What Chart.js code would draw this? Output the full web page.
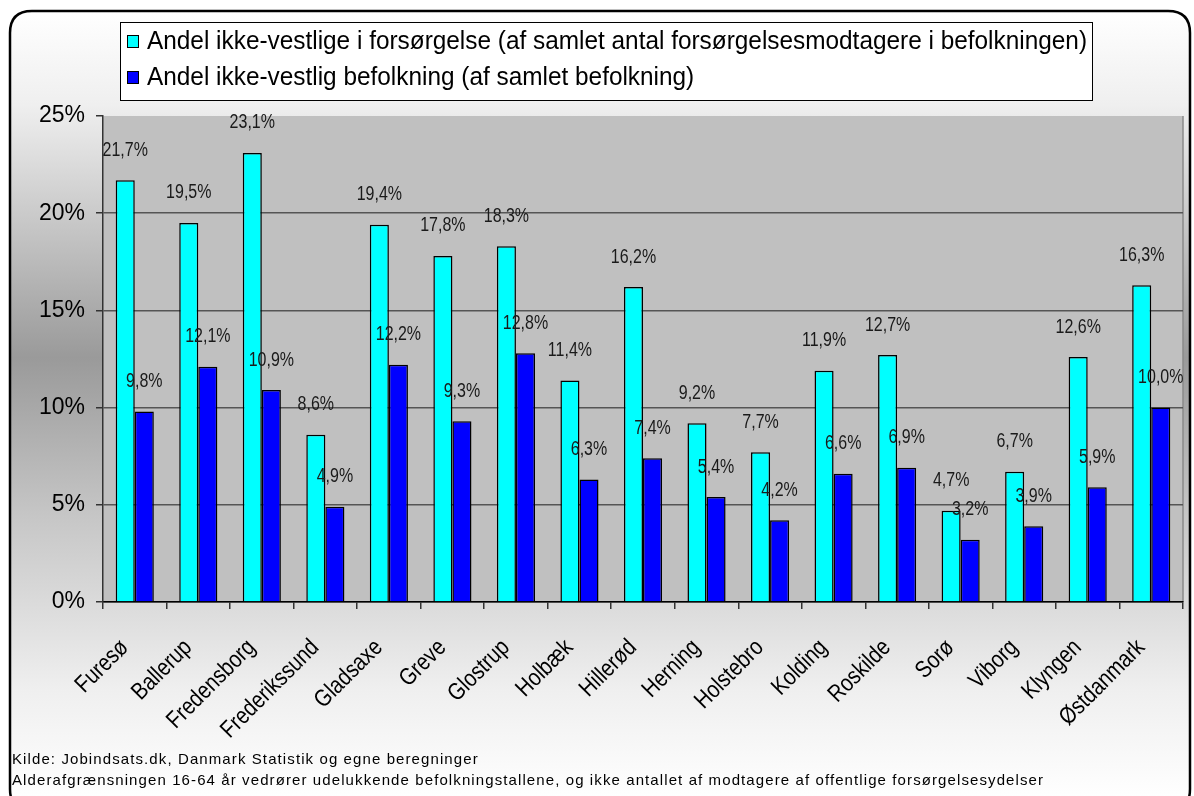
<!DOCTYPE html>
<html><head><meta charset="utf-8">
<script src="https://cdn.jsdelivr.net/npm/chart.js@4.4.0/dist/chart.umd.min.js"></script>
<style>html,body{margin:0;padding:0;background:#fff;overflow:hidden}#wrap{width:1194px;height:796px;position:relative}</style>
</head><body><div id="wrap"><canvas id="c" width="1194" height="796"></canvas></div>
<script>
const categories = ["Furesø","Ballerup","Fredensborg","Frederikssund","Gladsaxe","Greve","Glostrup","Holbæk","Hillerød","Herning","Holstebro","Kolding","Roskilde","Sorø","Viborg","Klyngen","Østdanmark"];
const seriesNames = ["Andel ikke-vestlige i forsørgelse (af samlet antal forsørgelsesmodtagere i befolkningen)","Andel ikke-vestlig befolkning (af samlet befolkning)"];
const forsorgelse = [21.7,19.5,23.1,8.6,19.4,17.8,18.3,11.4,16.2,9.2,7.7,11.9,12.7,4.7,6.7,12.6,16.3];
const befolkning = [9.8,12.1,10.9,4.9,12.2,9.3,12.8,6.3,7.4,5.4,4.2,6.6,6.9,3.2,3.9,5.9,10.0];
const yMin = 0, yMax = 25, yStep = 5;
const footnotes = ["Kilde: Jobindsats.dk, Danmark Statistik og egne beregninger","Alderafgrænsningen 16-64 år vedrører udelukkende befolkningstallene, og ikke antallet af modtagere af offentlige forsørgelsesydelser"];

const SANS = "'Liberation Sans',Arial,sans-serif";
const fmt = v => v.toFixed(1).replace('.', ',') + '%';

function roundRect(ctx,x,y,w,h,r){ctx.beginPath();ctx.moveTo(x+r,y);ctx.lineTo(x+w-r,y);ctx.quadraticCurveTo(x+w,y,x+w,y+r);ctx.lineTo(x+w,y+h-r);ctx.quadraticCurveTo(x+w,y+h,x+w-r,y+h);ctx.lineTo(x+r,y+h);ctx.quadraticCurveTo(x,y+h,x,y+h-r);ctx.lineTo(x,y+r);ctx.quadraticCurveTo(x,y,x+r,y);ctx.closePath();}
function narrowText(ctx,text,x,y,sx){ctx.save();ctx.translate(x,y);ctx.scale(sx,1);ctx.fillText(text,0,0);ctx.restore();}

const bgPlugin = {
  id:'bg',
  beforeDraw(chart){
    const ctx=chart.ctx, W=chart.width, H=chart.height, a=chart.chartArea;
    ctx.save();
    ctx.fillStyle='#fff';ctx.fillRect(0,0,W,H);
    const g=ctx.createLinearGradient(0,10,0,800);
    g.addColorStop(0,'#ffffff');
    g.addColorStop(0.12,'#efefef');
    g.addColorStop(0.44,'#9a9a9a');
    g.addColorStop(0.64,'#c6c6c6');
    g.addColorStop(0.86,'#efefef');
    g.addColorStop(1,'#ffffff');
    roundRect(ctx,10,11,1180,800,22);
    ctx.fillStyle=g;ctx.fill();
    ctx.lineWidth=2.5;ctx.strokeStyle='#000';ctx.stroke();
    ctx.fillStyle='#c0c0c0';
    ctx.fillRect(a.left,a.top,a.right-a.left,a.bottom-a.top);
    ctx.strokeStyle='#8a8a8a';ctx.lineWidth=1.5;
    ctx.beginPath();ctx.moveTo(a.right,a.top);ctx.lineTo(a.right,a.bottom);ctx.stroke();
    ctx.restore();
  },
  afterDraw(chart){
    const ctx=chart.ctx;
    ctx.save();
    // legend
    ctx.fillStyle='#fff';ctx.fillRect(120,22,972,78);
    ctx.strokeStyle='#000';ctx.lineWidth=1;ctx.strokeRect(120.5,22.5,972,78);
    const rows=[41,77];
    ctx.font="26px "+SANS;
    const legendScale=940/ctx.measureText(chart.data.datasets[0].label).width;
    chart.data.datasets.forEach((ds,i)=>{
      const y=rows[i];
      ctx.fillStyle=ds.backgroundColor;ctx.fillRect(127,y-6,11,12);
      ctx.strokeStyle='#000';ctx.lineWidth=1;ctx.strokeRect(127.5,y-5.5,11,12);
      ctx.fillStyle='#000';ctx.textBaseline='middle';ctx.textAlign='left';
      narrowText(ctx,ds.label,147,y+1,legendScale);
    });
    // x labels
    const xs=chart.scales.x;
    ctx.font="24px "+SANS;ctx.fillStyle='#000';ctx.textAlign='right';ctx.textBaseline='middle';
    chart.data.labels.forEach((lab,i)=>{
      const x=xs.getPixelForTick(i);
      ctx.save();ctx.translate(x-10,xs.top+42);ctx.rotate(-Math.PI/4);ctx.scale(0.84,1);
      ctx.fillText(lab,0,0);ctx.restore();
    });
    // footnotes
    ctx.font="15px "+SANS;ctx.fillStyle='#000';ctx.textBaseline='middle';ctx.textAlign='left';
    try{ctx.letterSpacing='1.1px';}catch(e){}
    footnotes.forEach((t,i)=>ctx.fillText(t,12,760+i*21));
    ctx.restore();
  },
  afterDatasetsDraw(chart){
    const ctx=chart.ctx;
    ctx.save();
    ctx.font="20px "+SANS;ctx.fillStyle='#1a1a1a';ctx.textAlign='center';ctx.textBaseline='middle';
    chart.data.datasets.forEach((ds,i)=>{
      chart.getDatasetMeta(i).data.forEach((el,j)=>{
        narrowText(ctx,fmt(ds.data[j]),el.x,el.y-30,0.8);
      });
    });
    ctx.restore();
  }
};

new Chart(document.getElementById('c'),{
  type:'bar',
  data:{labels:categories,datasets:[
    {label:seriesNames[0],data:forsorgelse,backgroundColor:'#00ffff',borderColor:'#000',borderWidth:1.5,categoryPercentage:0.6,barPercentage:1},
    {label:seriesNames[1],data:befolkning,backgroundColor:'#0000ff',borderColor:'#000',borderWidth:1.5,categoryPercentage:0.6,barPercentage:1}
  ]},
  options:{
    responsive:false,devicePixelRatio:1,animation:false,
    layout:{padding:{left:14,top:116,right:11,bottom:0}},
    plugins:{legend:{display:false},tooltip:{enabled:false},title:{display:false}},
    scales:{
      x:{offset:true,
        grid:{display:true,drawOnChartArea:false,offset:true,tickLength:7,color:'#333',lineWidth:1.5},
        border:{color:'#000',width:1.5},
        ticks:{display:false,autoSkip:false},
        afterFit(s){s.height=194;}
      },
      y:{min:yMin,max:yMax,
        ticks:{stepSize:yStep,padding:11,color:'#000',font:{family:SANS,size:23},callback:v=>v+'%'},
        grid:{color:c=>c.tick&&c.tick.value===yMax?'rgba(0,0,0,0)':'#555',tickColor:'#333',lineWidth:1.5,tickLength:7},
        border:{color:'#333',width:1.5},
        afterFit(s){s.width=89;}
      }
    }
  },
  plugins:[bgPlugin]
});
</script></body></html>
